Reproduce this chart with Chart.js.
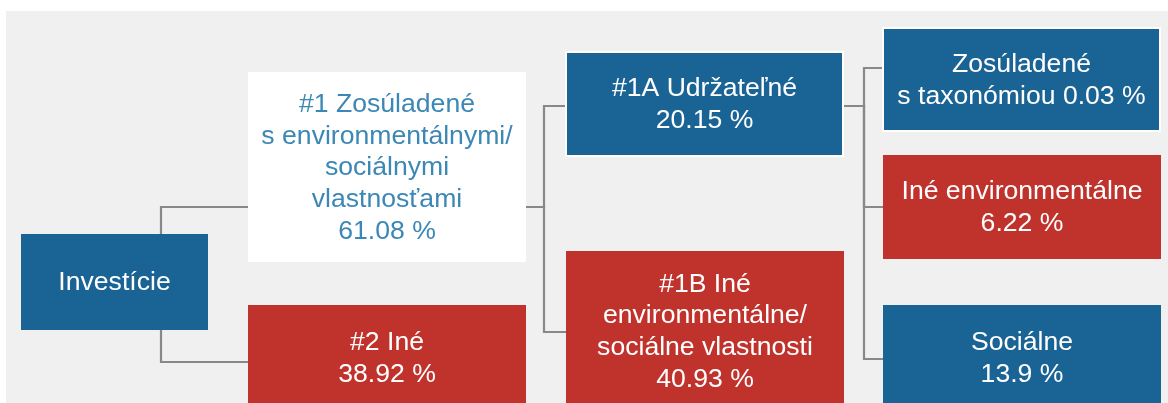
<!DOCTYPE html>
<html>
<head>
<meta charset="utf-8">
<script src="https://cdn.jsdelivr.net/npm/chart.js@4.4.1/dist/chart.umd.min.js"></script>
<style>
  html, body { margin: 0; padding: 0; background: #fff; }
  #wrap { width: 1168px; height: 403px; }
</style>
</head>
<body>
<div id="wrap"><canvas id="tree" width="1168" height="403"></canvas></div>
<script>
// tree data: one entry per node
const nodeLabels = [
  ['Investície'],
  ['#1 Zosúladené', 's environmentálnymi/', 'sociálnymi', 'vlastnosťami'],
  ['#2 Iné'],
  ['#1A Udržateľné'],
  ['#1B Iné', 'environmentálne/', 'sociálne vlastnosti'],
  ['Zosúladené', 's taxonómiou'],
  ['Iné environmentálne'],
  ['Sociálne']
];
const nodeShares = [null, 61.08, 38.92, 20.15, 40.93, 0.03, 6.22, 13.9];
const nodeParents = [null, 0, 0, 1, 1, 3, 3, 3];

// layout (in scale units) and looks, kept apart from the data
const layout = {
  left:   [21, 248, 248, 567, 566, 884, 883, 883],
  right:  [208, 526, 526, 842, 844, 1159, 1161, 1161],
  top:    [234, 72, 305, 53, 251, 29, 155, 305],
  bottom: [330, 262, 411, 155, 411, 130, 259, 411],
  anchor: [282, 207, 362, 106, 332, 68, 207, 359],
  elbow:  [161, 544, null, 864, null, null, null, null],
  inline: [false, false, false, false, false, true, false, false]
};
const BLUE = '#1a6395', RED = '#c0322c', WHITE = '#ffffff';
const fills = [BLUE, WHITE, RED, BLUE, RED, BLUE, RED, BLUE];
const textColors = [WHITE, '#3b87b6', WHITE, WHITE, WHITE, WHITE, WHITE, WHITE];
const outlined = [false, false, false, true, false, true, false, false];
const FONT = '26.6px "Liberation Sans", Arial, sans-serif';
const LINE_H = 31.7;

// one elbow connector per child
const connectors = [];
nodeParents.forEach((p, i) => {
  if (p === null) return;
  connectors.push({
    type: 'line',
    data: [
      { x: layout.right[p], y: layout.anchor[p] },
      { x: layout.elbow[p], y: layout.anchor[p] },
      { x: layout.elbow[p], y: layout.anchor[i] },
      { x: layout.left[i], y: layout.anchor[i] }
    ],
    borderColor: '#888888',
    borderWidth: 2.2,
    pointRadius: 0,
    tension: 0,
    borderJoinStyle: 'miter',
    fill: false
  });
});

function nodeText(i) {
  const lines = nodeLabels[i].slice();
  if (nodeShares[i] !== null) {
    const v = nodeShares[i] + ' %';
    if (layout.inline[i]) lines[lines.length - 1] += ' ' + v;
    else lines.push(v);
  }
  return lines;
}

const panelBg = {
  id: 'panelBg',
  beforeDatasetsDraw(chart) {
    const { ctx, scales: { x, y } } = chart;
    ctx.save();
    ctx.fillStyle = '#f0f0f0';
    const x0 = x.getPixelForValue(6), y0 = y.getPixelForValue(11);
    ctx.fillRect(x0, y0, x.getPixelForValue(1168) - x0, y.getPixelForValue(403) - y0);
    ctx.restore();
  }
};

const boxes = {
  id: 'boxes',
  afterDatasetsDraw(chart) {
    const { ctx, scales: { x, y } } = chart;
    ctx.save();
    nodeLabels.forEach((_, i) => {
      const l = x.getPixelForValue(layout.left[i]);
      const r = x.getPixelForValue(layout.right[i]);
      const t = y.getPixelForValue(layout.top[i]);
      const b = y.getPixelForValue(layout.bottom[i]);
      if (outlined[i]) {
        ctx.fillStyle = WHITE;
        ctx.fillRect(l - 2, t - 2, r - l + 4, b - t + 4);
      }
      ctx.fillStyle = fills[i];
      ctx.fillRect(l, t, r - l, b - t);
      const lines = nodeText(i);
      ctx.fillStyle = textColors[i];
      ctx.font = FONT;
      ctx.textAlign = 'center';
      ctx.textBaseline = 'middle';
      const cx = (l + r) / 2, cy = (t + b) / 2 + 1;
      lines.forEach((s, k) => {
        ctx.fillText(s, cx, cy + (k - (lines.length - 1) / 2) * LINE_H);
      });
    });
    ctx.restore();
  }
};

new Chart(document.getElementById('tree'), {
  type: 'scatter',
  data: { datasets: connectors },
  options: {
    responsive: false,
    animation: false,
    layout: { padding: 0 },
    plugins: { legend: { display: false }, tooltip: { enabled: false } },
    scales: {
      x: { type: 'linear', min: 0, max: 1168, display: false },
      y: { type: 'linear', min: 0, max: 403, reverse: true, display: false }
    }
  },
  plugins: [panelBg, boxes]
});
</script>
</body>
</html>
